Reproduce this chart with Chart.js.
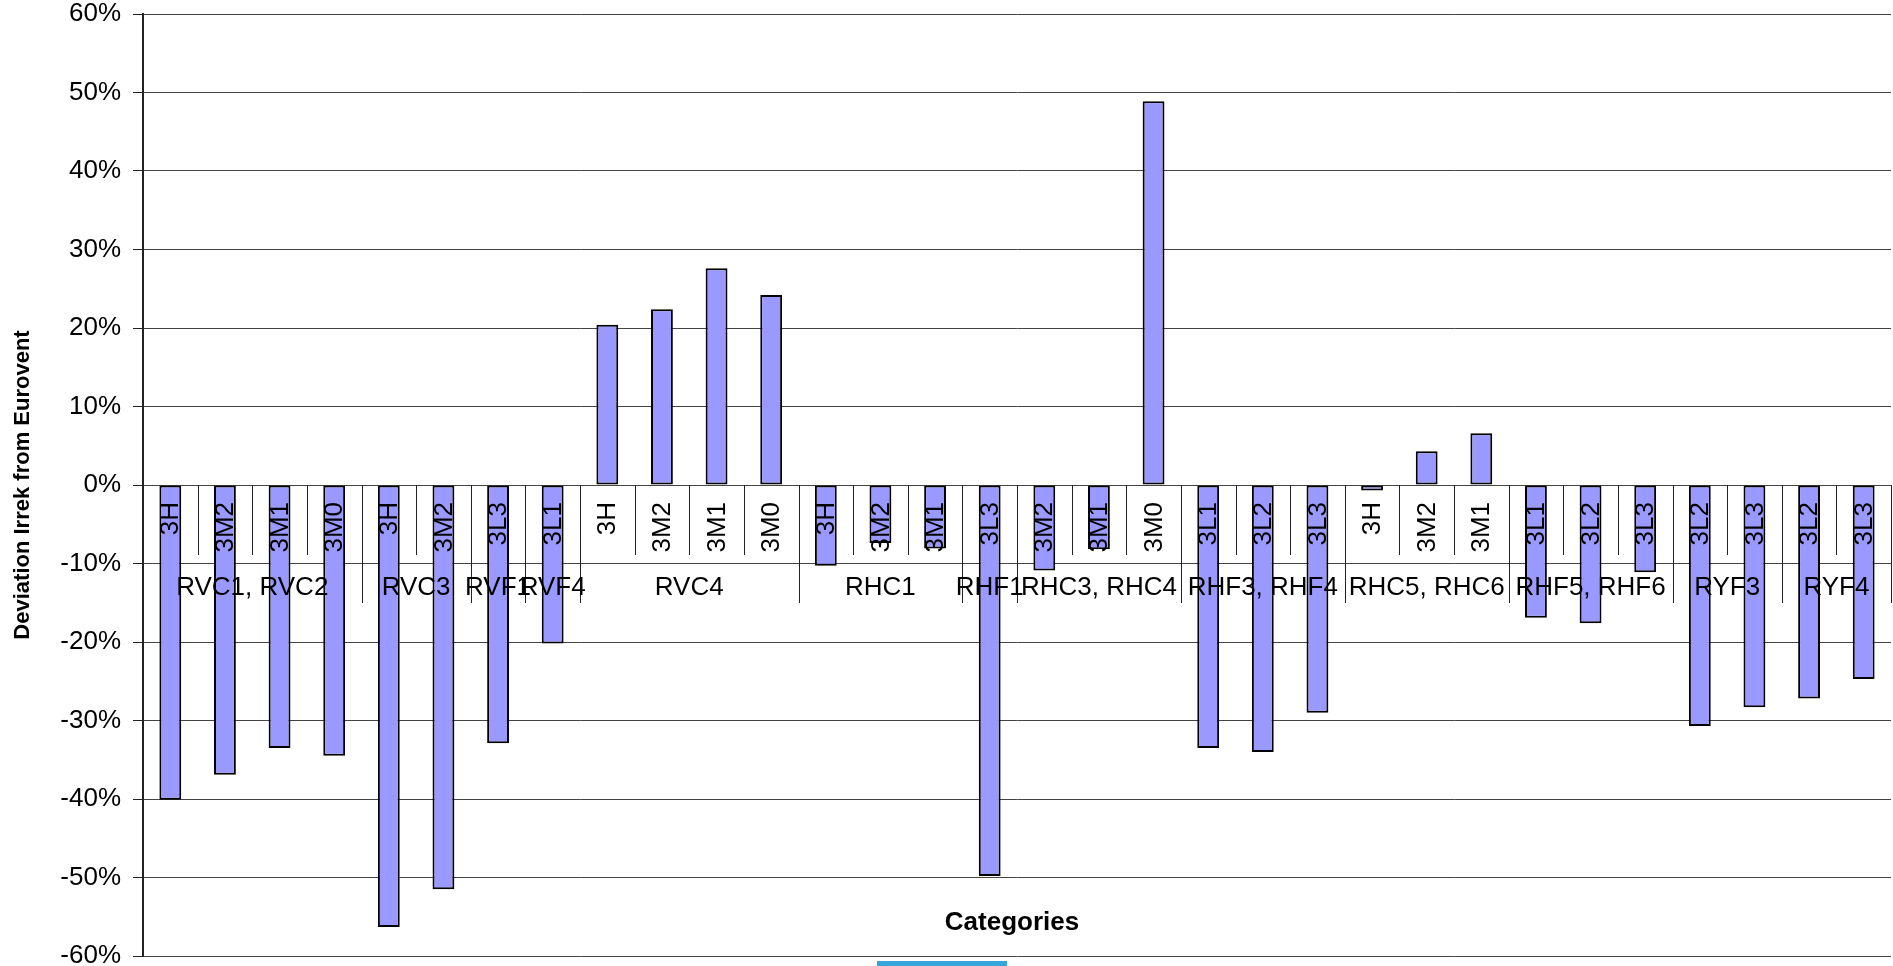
<!DOCTYPE html>
<html>
<head>
<meta charset="utf-8">
<script src="https://cdn.jsdelivr.net/npm/chart.js@4"></script>
<style>
  html, body { margin: 0; padding: 0; background: #fff; }
  #wrap { position: relative; width: 1893px; height: 966px; }
  #scrollMark { position: absolute; left: 877px; top: 961px; width: 130px; height: 5px; background: #36a6da; }
</style>
</head>
<body>
<div id="wrap">
  <canvas id="devChart" width="1893" height="966"></canvas>
  <div id="scrollMark"></div>
</div>
<script>
// inner category labels, one per bar
const categories = ['3H', '3M2', '3M1', '3M0', '3H', '3M2', '3L3', '3L1', '3H', '3M2', '3M1', '3M0',
  '3H', '3M2', '3M1', '3L3', '3M2', '3M1', '3M0', '3L1', '3L2', '3L3', '3H', '3M2', '3M1',
  '3L1', '3L2', '3L3', '3L2', '3L3', '3L2', '3L3'];
// outer group labels and how many categories each spans
const groups = ['RVC1, RVC2', 'RVC3', 'RVF1', 'RVF4', 'RVC4', 'RHC1', 'RHF1', 'RHC3, RHC4',
  'RHF3, RHF4', 'RHC5, RHC6', 'RHF5, RHF6', 'RYF3', 'RYF4'];
const groupSizes = [4, 2, 1, 1, 4, 3, 1, 3, 3, 3, 3, 2, 2];
// deviation in percent
const deviation = [-40.1, -36.9, -33.5, -34.5, -56.3, -51.5, -32.9, -20.2, 20.4, 22.4, 27.6, 24.2,
  -10.3, -7.4, -8.1, -49.8, -10.9, -8.2, 48.9, -33.5, -34.0, -29.0, -0.7, 4.3, 6.6,
  -16.9, -17.6, -11.1, -30.7, -28.3, -27.2, -24.7];

const FONT = '"Liberation Sans", Arial, sans-serif';
Chart.defaults.font.family = FONT;
Chart.defaults.color = '#000';

// draws the two-level category axis at the zero line, plus the x title
const categoryAxis = {
  id: 'categoryAxis',
  afterDatasetsDraw(chart) {
    const { ctx, chartArea, scales: { x, y } } = chart;
    const zero = y.getPixelForValue(0);
    const half = (x.getPixelForValue(1) - x.getPixelForValue(0)) / 2;
    ctx.save();
    ctx.fillStyle = '#000';
    ctx.strokeStyle = '#222';
    ctx.lineWidth = 1;

    // group boundaries
    const groupEnds = new Set();
    let acc = 0;
    groupSizes.forEach((n) => { acc += n; groupEnds.add(acc); });

    // separators
    for (let k = 1; k <= categories.length; k++) {
      const sx = Math.round(x.getPixelForValue(k - 1) + half) + 0.5;
      const len = groupEnds.has(k) ? 118 : 70;
      ctx.beginPath();
      ctx.moveTo(sx, zero);
      ctx.lineTo(sx, zero + len);
      ctx.stroke();
    }

    // inner labels, rotated
    ctx.font = '26px ' + FONT;
    ctx.textAlign = 'right';
    ctx.textBaseline = 'middle';
    categories.forEach((c, i) => {
      ctx.save();
      ctx.translate(x.getPixelForValue(i) + 1, zero + 17);
      ctx.rotate(-Math.PI / 2);
      ctx.fillText(c, 0, 0);
      ctx.restore();
    });

    // outer group labels
    ctx.textAlign = 'center';
    let first = 0;
    groups.forEach((g, gi) => {
      const last = first + groupSizes[gi] - 1;
      const gx = (x.getPixelForValue(first) + x.getPixelForValue(last)) / 2;
      ctx.fillText(g, gx, zero + 103);
      first = last + 1;
    });

    // x axis title
    ctx.font = 'bold 26px ' + FONT;
    ctx.fillText('Categories', (chartArea.left + chartArea.right) / 2 - 5, chartArea.bottom - 33);
    ctx.restore();
  },
};

new Chart(document.getElementById('devChart'), {
  type: 'bar',
  data: {
    labels: categories,
    datasets: [
      {
        data: deviation,
        backgroundColor: '#9999ff',
        borderColor: '#000',
        borderWidth: 2,
        borderSkipped: false,
        barPercentage: 0.4,
        categoryPercentage: 1.0,
      },
    ],
  },
  options: {
    responsive: false,
    animation: false,
    devicePixelRatio: 1,
    layout: { padding: { top: 14, bottom: 10, right: 2, left: 0 } },
    plugins: {
      legend: { display: false },
      tooltip: { enabled: false },
    },
    scales: {
      x: { display: false },
      y: {
        min: -60,
        max: 60,
        ticks: {
          stepSize: 10,
          padding: 12,
          font: { size: 26 },
          color: '#000',
          callback: (v) => v + '%',
        },
        grid: { color: '#444', lineWidth: 1, tickLength: 10, tickColor: '#222' },
        border: { color: '#222', width: 2 },
        title: {
          display: true,
          text: 'Deviation Irrek from Eurovent',
          font: { size: 22, weight: 'bold' },
          color: '#000',
          padding: { top: 10, bottom: 0 },
        },
        afterFit(scale) {
          scale.width = 143;
          scale.paddingTop = 0;
          scale.paddingBottom = 0;
        },
      },
    },
  },
  plugins: [categoryAxis],
});
</script>
</body>
</html>
